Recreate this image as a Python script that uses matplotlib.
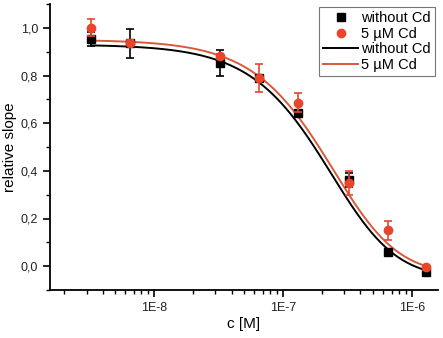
import numpy as np
import matplotlib
matplotlib.use("Agg")
import matplotlib.pyplot as plt
from matplotlib.lines import Line2D
from matplotlib.ticker import FixedLocator, LogLocator, FuncFormatter, MultipleLocator, NullFormatter

plt.rcParams['font.family'] = ['Liberation Sans', 'DejaVu Sans']

# concentrations [M]
conc = [3.25e-9, 6.5e-9, 3.25e-8, 6.5e-8, 1.3e-7, 3.25e-7, 6.5e-7, 1.3e-6]
# without Cd
y_ctrl = [0.954, 0.935, 0.853, 0.790, 0.643, 0.361, 0.060, -0.025]
e_ctrl = [0.030, 0.062, 0.055, 0.010, 0.010, 0.030, 0.010, 0.010]
# 5 µM Cd
y_cd = [1.000, 0.937, 0.880, 0.790, 0.685, 0.348, 0.151, -0.004]
e_cd = [0.035, 0.010, 0.010, 0.060, 0.040, 0.050, 0.040, 0.010]

# fitted curve parameters: A1 (top), A2 (bottom), log x0, p, s
fit_ctrl = dict(A1=0.93, A2=-0.05, logx0=-6.39, p=1.3, s=2.0)
fit_cd = dict(A1=0.95, A2=-0.035, logx0=-6.375, p=1.3, s=2.0)

def model(x, A1, A2, logx0, p, s):
    return A2 + (A1 - A2) / (1.0 + (x / 10**logx0) ** p) ** s

xticks = [1e-8, 1e-7, 1e-6]
xticklabels = ['1E-8', '1E-7', '1E-6']
yticks = [0.0, 0.2, 0.4, 0.6, 0.8, 1.0]
labels = ['without Cd', '5 µM Cd']

fig = plt.figure(figsize=(4.43, 3.38), dpi=100)
ax = fig.add_axes([50/443, 48/338, 388/443, 286/338])

black = '#000000'
red = '#e8452b'
red_line = '#d9593a'

xs = np.logspace(np.log10(conc[0]), np.log10(conc[-1]), 300)
ax.errorbar(conc, y_ctrl, yerr=e_ctrl, fmt='s', color=black, ms=5.5,
            capsize=3, elinewidth=1.2, capthick=1.2, zorder=3)
ax.errorbar(conc, y_cd, yerr=e_cd, fmt='o', color=red, ms=6,
            capsize=3, elinewidth=1.2, capthick=1.2, zorder=4)
ax.plot(xs, model(xs, **fit_ctrl), color=black, lw=1.4, zorder=2)
ax.plot(xs, model(xs, **fit_cd), color=red_line, lw=1.4, zorder=2)

ax.set_xscale('log')
ax.set_xlim(1.56e-9, 1.6e-6)
ax.set_ylim(-0.1, 1.1)
ax.xaxis.set_major_locator(FixedLocator(xticks))
ax.xaxis.set_major_formatter(FuncFormatter(lambda v, pos: xticklabels[pos] if pos is not None and pos < len(xticklabels) else ''))
ax.xaxis.set_minor_locator(LogLocator(base=10, subs=np.arange(2, 10)))
ax.xaxis.set_minor_formatter(NullFormatter())
ax.yaxis.set_major_locator(FixedLocator(yticks))
ax.yaxis.set_minor_locator(MultipleLocator(0.1))
ax.yaxis.set_major_formatter(FuncFormatter(lambda v, pos: f'{v:.1f}'.replace('.', ',')))

for sp in ['top', 'right']:
    ax.spines[sp].set_visible(False)
for sp in ['left', 'bottom']:
    ax.spines[sp].set_linewidth(1.3)
ax.tick_params(which='major', direction='out', length=5, width=1.2, labelsize=9, labelcolor='#222222')
ax.tick_params(which='minor', direction='out', length=3, width=1.0)
ax.set_xlabel('c [M]', fontsize=11)
ax.set_ylabel('relative slope', fontsize=11)
ax.xaxis.set_label_coords(0.5, -0.095)
ax.yaxis.set_label_coords(-0.085, 0.5)

handles = [
    Line2D([], [], ls='none', marker='s', ms=5.5, color=black),
    Line2D([], [], ls='none', marker='o', ms=6, color=red),
    Line2D([], [], color=black, lw=1.4),
    Line2D([], [], color=red_line, lw=1.4),
]
leg = ax.legend(handles, labels + labels, loc='upper right', bbox_to_anchor=(1.0, 1.0),
                fontsize=10.5, frameon=True, fancybox=False, edgecolor='#555555',
                handlelength=2.4, handletextpad=0.2, borderpad=0.3, labelspacing=0.1,
                borderaxespad=0.2)
leg.get_frame().set_linewidth(0.8)

fig.savefig('out.png', dpi=100)
